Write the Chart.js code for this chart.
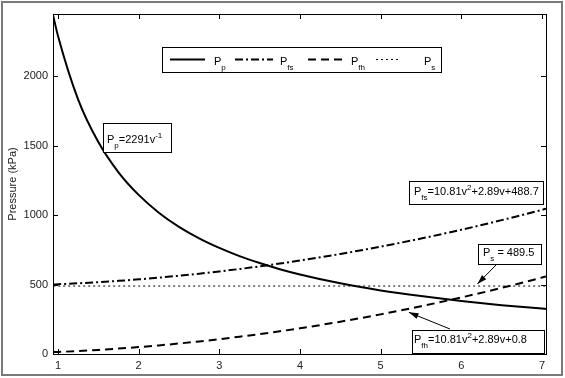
<!DOCTYPE html>
<html>
<head>
<meta charset="utf-8">
<script src="https://cdn.jsdelivr.net/npm/chart.js@4.4.1/dist/chart.umd.min.js"></script>
<style>
  html, body { margin: 0; padding: 0; background: #fff; }
</style>
</head>
<body>
<canvas id="chart" width="565" height="378"></canvas>
<script>
// values
const velocity = [0.94, 1, 1.25, 1.5, 1.75, 2, 2.25, 2.5, 2.75, 3, 3.25, 3.5, 3.75, 4, 4.5, 5, 5.5, 6, 6.5, 7, 7.05];
const pP  = [2437, 2291, 1833, 1527, 1309, 1146, 1018, 916, 833, 764, 705, 655, 611, 573, 509, 458, 417, 382, 352, 327, 325];
const pFs = [501.0, 502.4, 509.2, 517.4, 526.9, 537.7, 549.9, 563.5, 578.4, 594.7, 612.3, 631.2, 651.6, 673.2, 720.6, 773.4, 831.6, 895.2, 964.2, 1038.6, 1046.4];
const pFh = [13.1, 14.5, 21.3, 29.5, 39.0, 49.8, 62.0, 75.6, 90.5, 106.8, 124.4, 143.3, 163.7, 185.3, 232.7, 285.5, 343.7, 407.3, 476.3, 550.7, 558.5];
const pS  = [489.5, 489.5, 489.5, 489.5, 489.5, 489.5, 489.5, 489.5, 489.5, 489.5, 489.5, 489.5, 489.5, 489.5, 489.5, 489.5, 489.5, 489.5, 489.5, 489.5, 489.5];

const xTicks = [1, 2, 3, 4, 5, 6, 7];
const yTicks = [0, 500, 1000, 1500, 2000];

const FONT = '"Liberation Sans", Arial, sans-serif';
const DASH = { pp: [], pfs: [8, 3, 2, 3], pfh: [8, 5], ps: [2, 3] };

function pts(ys) {
    return velocity.map((v, i) => ({ x: v, y: ys[i] }));
}

// draw text with sub/superscripts, y = baseline
function richText(ctx, parts, x, y) {
    ctx.fillStyle = '#000';
    ctx.textAlign = 'left';
    ctx.textBaseline = 'alphabetic';
    parts.forEach(p => {
        const size = p.s ? 8 : 11;
        ctx.font = size + 'px ' + FONT;
        const dy = p.s === 'sub' ? 5 : p.s === 'sup' ? -5 : 0;
        ctx.fillText(p.t, x, y + dy);
        x += ctx.measureText(p.t).width;
    });
}

function box(ctx, x0, y0, x1, y1) {
    ctx.fillStyle = '#fff';
    ctx.fillRect(x0, y0, x1 - x0, y1 - y0);
    ctx.strokeStyle = '#000';
    ctx.lineWidth = 1;
    ctx.setLineDash([]);
    ctx.strokeRect(x0 + 0.5, y0 + 0.5, x1 - x0, y1 - y0);
}

function arrow(ctx, x0, y0, x1, y1) {
    ctx.strokeStyle = '#000';
    ctx.fillStyle = '#000';
    ctx.lineWidth = 1;
    ctx.setLineDash([]);
    ctx.beginPath();
    ctx.moveTo(x0, y0);
    ctx.lineTo(x1, y1);
    ctx.stroke();
    const a = Math.atan2(y1 - y0, x1 - x0);
    ctx.beginPath();
    ctx.moveTo(x1, y1);
    ctx.lineTo(x1 - 10 * Math.cos(a - 0.3), y1 - 10 * Math.sin(a - 0.3));
    ctx.lineTo(x1 - 10 * Math.cos(a + 0.3), y1 - 10 * Math.sin(a + 0.3));
    ctx.closePath();
    ctx.fill();
}

const framePlugin = {
    id: 'frame',
    beforeDraw(chart) {
        const ctx = chart.ctx;
        ctx.save();
        ctx.fillStyle = '#fff';
        ctx.fillRect(0, 0, chart.width, chart.height);
        ctx.restore();
    },
    afterDraw(chart) {
        const { ctx, chartArea: a, scales: { x, y } } = chart;
        ctx.save();
        ctx.strokeStyle = '#000';
        ctx.lineWidth = 1;
        ctx.setLineDash([]);
        ctx.strokeRect(a.left + 0.5, a.top + 0.5, a.right - a.left, a.bottom - a.top);

        // inward ticks
        ctx.beginPath();
        xTicks.forEach(v => {
            const px = Math.round(x.getPixelForValue(v)) + 0.5;
            ctx.moveTo(px, a.bottom); ctx.lineTo(px, a.bottom - 5);
            ctx.moveTo(px, a.top); ctx.lineTo(px, a.top + 5);
        });
        yTicks.forEach(v => {
            const py = Math.round(y.getPixelForValue(v)) + 0.5;
            ctx.moveTo(a.left, py); ctx.lineTo(a.left + 5, py);
            ctx.moveTo(a.right, py); ctx.lineTo(a.right - 5, py);
        });
        ctx.stroke();

        // legend
        box(ctx, 162, 47, 441, 72);
        const items = [
            { x0: 170, x1: 205, tx: 214, dash: DASH.pp, w: 2, sub: 'p' },
            { x0: 235, x1: 273, tx: 280, dash: DASH.pfs, w: 2, sub: 'fs' },
            { x0: 308, x1: 342, tx: 351, dash: DASH.pfh, w: 2, sub: 'fh' },
            { x0: 376, x1: 400, tx: 424, dash: DASH.ps, w: 1, sub: 's' }
        ];
        items.forEach(it => {
            ctx.strokeStyle = '#000';
            ctx.lineWidth = it.w;
            ctx.setLineDash(it.dash);
            ctx.beginPath();
            ctx.moveTo(it.x0, 59.5);
            ctx.lineTo(it.x1, 59.5);
            ctx.stroke();
            richText(ctx, [{ t: 'P' }, { t: it.sub, s: 'sub' }], it.tx, 65);
        });

        // annotations
        box(ctx, 103, 123, 171, 152);
        richText(ctx, [{ t: 'P' }, { t: 'p', s: 'sub' }, { t: '=2291v' }, { t: '-1', s: 'sup' }], 107, 143);

        box(ctx, 409, 181, 543, 204);
        richText(ctx, [{ t: 'P' }, { t: 'fs', s: 'sub' }, { t: '=10.81v' }, { t: '2', s: 'sup' }, { t: '+2.89v+488.7' }], 414, 195);

        box(ctx, 478, 244, 541, 264);
        richText(ctx, [{ t: 'P' }, { t: 's', s: 'sub' }, { t: ' = 489.5' }], 483, 256);
        arrow(ctx, 496, 265, x.getPixelForValue(6.2), y.getPixelForValue(505));

        box(ctx, 412, 330, 544, 353);
        richText(ctx, [{ t: 'P' }, { t: 'fh', s: 'sub' }, { t: '=10.81v' }, { t: '2', s: 'sup' }, { t: '+2.89v+0.8' }], 414, 343);
        arrow(ctx, 450, 329, x.getPixelForValue(5.35), y.getPixelForValue(300));

        // figure border
        ctx.strokeStyle = '#7a7a7a';
        ctx.lineWidth = 2;
        ctx.strokeRect(2, 2, 560, 373);
        ctx.restore();
    }
};

function line(label, ys, dash, width) {
    return {
        label: label,
        data: pts(ys),
        borderColor: '#000',
        borderWidth: width,
        borderDash: dash,
        pointRadius: 0,
        fill: false,
        cubicInterpolationMode: 'monotone'
    };
}

const ctx = document.getElementById('chart').getContext('2d');

new Chart(ctx, {
    type: 'line',
    data: {
        datasets: [
            line('Pp', pP, DASH.pp, 2),
            line('Pfs', pFs, DASH.pfs, 2),
            line('Pfh', pFh, DASH.pfh, 2),
            line('Ps', pS, DASH.ps, 1)
        ]
    },
    options: {
        responsive: false,
        animation: false,
        layout: { padding: { left: 0, right: 19, top: 14, bottom: 0 } },
        plugins: {
            legend: { display: false },
            tooltip: { enabled: false }
        },
        scales: {
            x: {
                type: 'linear',
                min: 0.938,
                max: 7.05,
                afterBuildTicks: s => { s.ticks = xTicks.map(v => ({ value: v })); },
                afterFit: s => { s.height = 24; },
                grid: { display: false, drawTicks: false },
                border: { display: false },
                ticks: { color: '#222', padding: 5, font: { family: FONT, size: 11 }, maxRotation: 0, callback: v => String(v) }
            },
            y: {
                min: 0,
                max: 2449,
                afterBuildTicks: s => { s.ticks = yTicks.map(v => ({ value: v })); },
                afterFit: s => { s.width = 53; },
                grid: { display: false, drawTicks: false },
                border: { display: false },
                ticks: { color: '#222', padding: 5, font: { family: FONT, size: 11 }, callback: v => String(v) },
                title: {
                    display: true,
                    text: 'Pressure (kPa)',
                    color: '#222',
                    font: { family: FONT, size: 11 },
                    padding: { top: 6, bottom: 0 }
                }
            }
        }
    },
    plugins: [framePlugin]
});
</script>
</body>
</html>
